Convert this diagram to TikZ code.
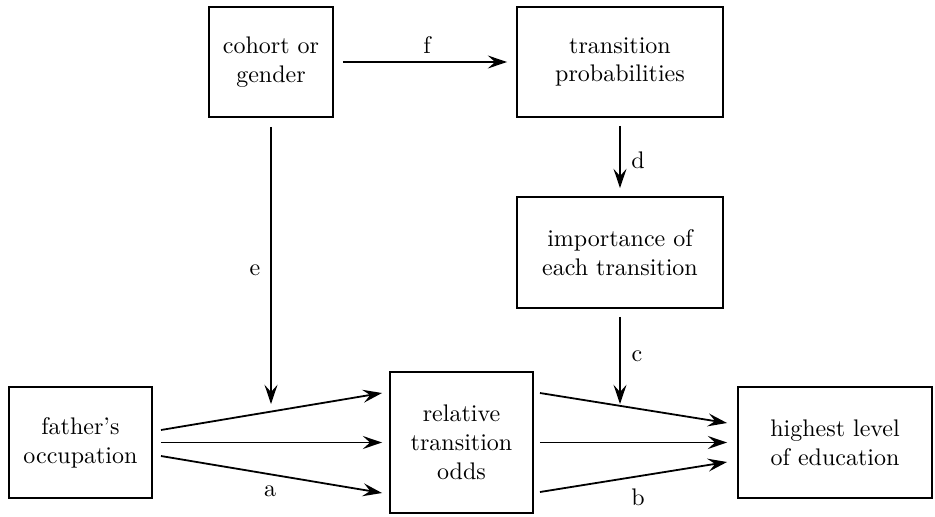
\documentclass[tikz,border=0pt]{standalone}
\usetikzlibrary{arrows.meta}
\begin{document}
\begin{tikzpicture}[x=0.41667pt,y=-0.41667pt,
  box/.style={draw,line width=0.8pt,inner sep=0pt,align=center},
  arr/.style={line width=0.75pt,-{Stealth[length=8pt,width=5.4pt,inset=3pt]}},
  lab/.style={inner sep=0pt}]
\useasboundingbox (0,0) rectangle (935,516);
\node[box,minimum width={124*0.41667pt},minimum height={110*0.41667pt}] (coh) at (271,62) {cohort or\\gender};
\node[box,minimum width={206*0.41667pt},minimum height={110*0.41667pt}] (tp) at (620,62) {transition\\probabilities};
\node[box,minimum width={206*0.41667pt},minimum height={111*0.41667pt}] (imp) at (620,252.5) {importance of\\each transition};
\node[box,minimum width={143*0.41667pt},minimum height={111*0.41667pt}] (fa) at (80.5,442.5) {father's\\occupation};
\node[box,minimum width={143*0.41667pt},minimum height={141*0.41667pt}] (rel) at (461.5,442.5) {relative\\transition\\odds};
\node[box,minimum width={194*0.41667pt},minimum height={111*0.41667pt}] (hi) at (835,442.5) {highest level\\of education};
\coordinate (eend) at (271,404);
\coordinate (cend) at (620,404);
% connectors
\draw[arr] ([shift={(9,0)}]coh.east) -- ([shift={(-9,0)}]tp.west);
\draw[arr] ([shift={(0,8)}]tp.south) -- ([shift={(0,-8)}]imp.north);
\draw[arr] ([shift={(0,9)}]coh.south) -- (eend);
\draw[arr] ([shift={(0,8)}]imp.south) -- (cend);
\draw[arr] ([shift={(8,-12.5)}]fa.east) -- ([shift={(-7,-49.5)}]rel.west);
\draw[arr] ([shift={(8,0)}]fa.east) -- ([shift={(-7,0)}]rel.west);
\draw[arr] ([shift={(8,13.5)}]fa.east) -- ([shift={(-7,50.5)}]rel.west);
\draw[arr] ([shift={(6,-49.5)}]rel.east) -- ([shift={(-10,-19.5)}]hi.west);
\draw[arr] ([shift={(6,0)}]rel.east) -- ([shift={(-10,0)}]hi.west);
\draw[arr] ([shift={(6,49.5)}]rel.east) -- ([shift={(-10,19.5)}]hi.west);
% labels
\node[lab] (lf) at (427,45) {f};
\node[lab] (ld) at (638,160) {d};
\node[lab] (le) at (255,270) {e};
\node[lab] (lc) at (637,356) {c};
\node[lab] (la) at (270,491) {a};
\node[lab] (lb) at (638,497) {b};
\end{tikzpicture}
\end{document}
